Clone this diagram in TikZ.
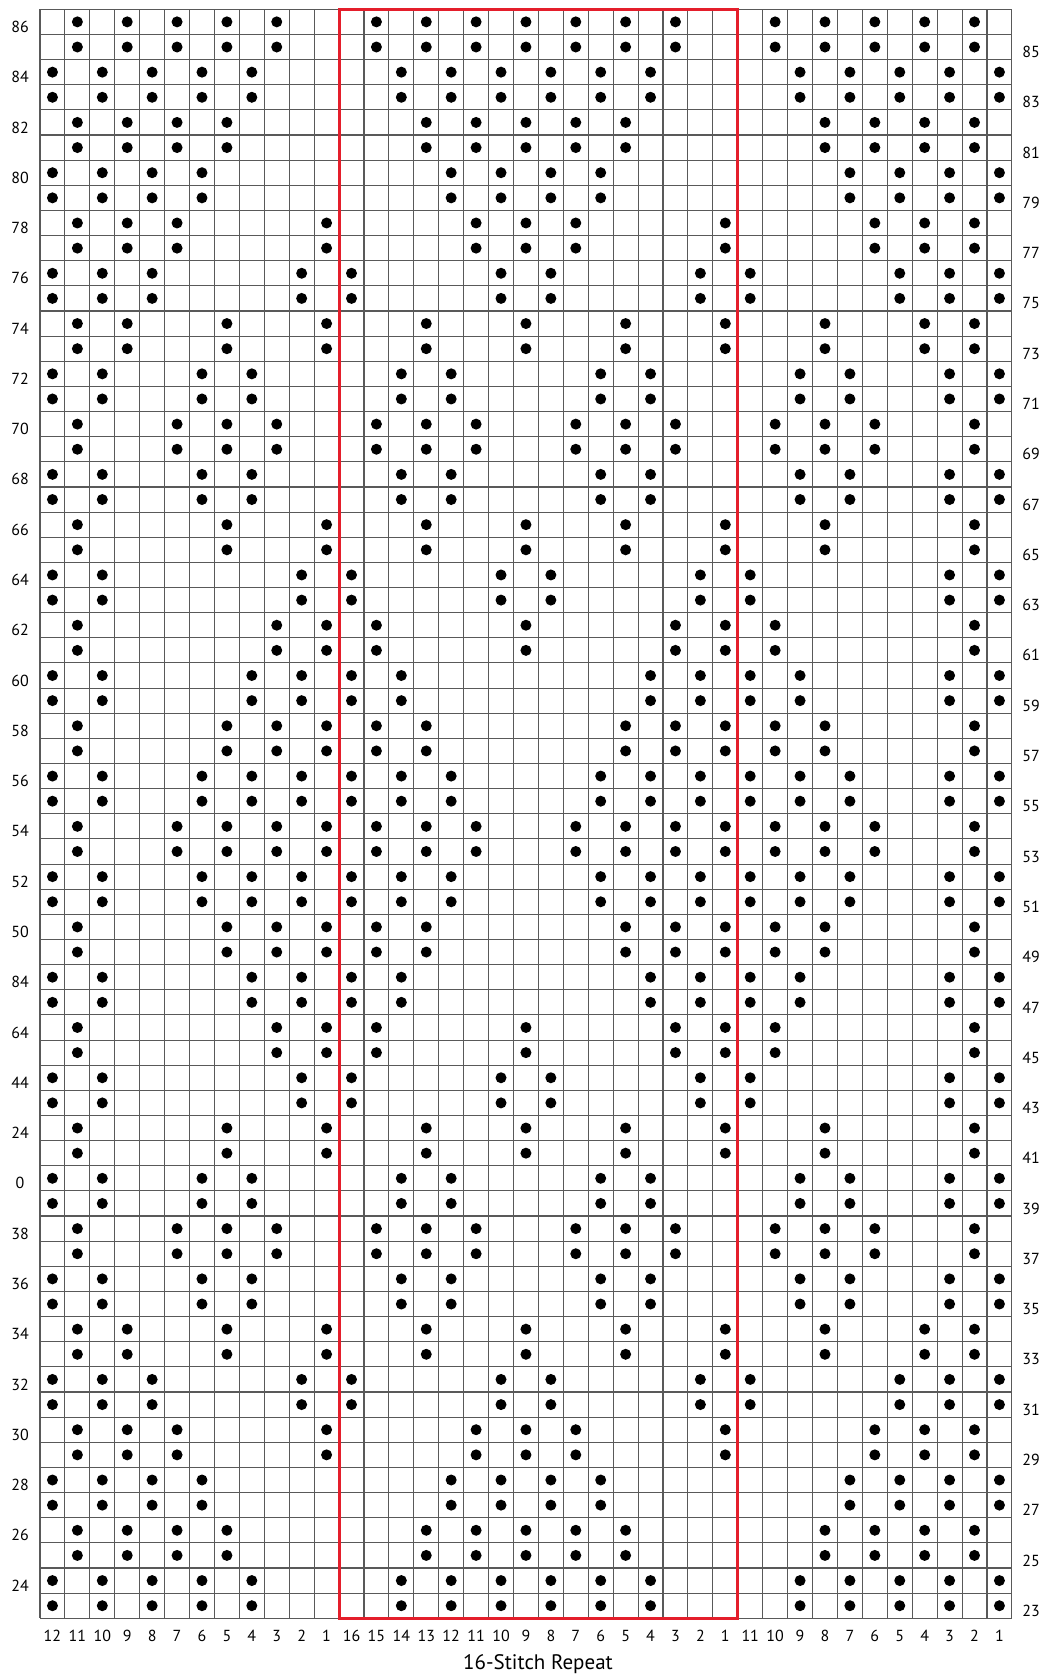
\documentclass[tikz,border=0pt]{standalone}
\usepackage{fontspec}
\setmainfont{PT Sans}
\definecolor{gridc}{HTML}{595959}
\definecolor{redc}{HTML}{E41E2B}
\begin{document}
\begin{tikzpicture}[x=1pt,y=-1pt,
  gridline/.style={draw=gridc,line width=1.1pt},
  redbox/.style={draw=redc,line width=3pt},
  knot/.style={fill=black},
  rowlab/.style={font=\fontsize{16}{16}\selectfont,anchor=center,inner sep=0pt},
  collab/.style={font=\fontsize{16}{16}\selectfont,anchor=center,inner sep=0pt},
  titlelab/.style={font=\fontsize{21}{21}\selectfont,anchor=center,inner sep=0pt}]
\useasboundingbox (0,0) rectangle (1053,1675);
\fill[white] (0,0) rectangle (1053,1675);
% grid
\foreach \i in {0,...,39} \draw[gridline] ({40+\i*24.92},9.3) -- ({40+\i*24.92},1618.3);
\foreach \j in {0,...,64} \draw[gridline] (40,{9.3+\j*25.14}) -- (1011.7,{9.3+\j*25.14});
% dots: pair index / columns
\foreach \k/\cl in {
 0/{1,3,5,7,9,13,15,17,19,21,23,25,29,31,33,35,37},
 1/{0,2,4,6,8,14,16,18,20,22,24,30,32,34,36,38},
 2/{1,3,5,7,15,17,19,21,23,31,33,35,37},
 3/{0,2,4,6,16,18,20,22,32,34,36,38},
 4/{1,3,5,11,17,19,21,27,33,35,37},
 5/{0,2,4,10,12,18,20,26,28,34,36,38},
 6/{1,3,7,11,15,19,23,27,31,35,37},
 7/{0,2,6,8,14,16,22,24,30,32,36,38},
 8/{1,5,7,9,13,15,17,21,23,25,29,31,33,37},
 9/{0,2,6,8,14,16,22,24,30,32,36,38},
 10/{1,7,11,15,19,23,27,31,37},
 11/{0,2,10,12,18,20,26,28,36,38},
 12/{1,9,11,13,19,25,27,29,37},
 13/{0,2,8,10,12,14,24,26,28,30,36,38},
 14/{1,7,9,11,13,15,23,25,27,29,31,37},
 15/{0,2,6,8,10,12,14,16,22,24,26,28,30,32,36,38},
 16/{1,5,7,9,11,13,15,17,21,23,25,27,29,31,33,37},
 17/{0,2,6,8,10,12,14,16,22,24,26,28,30,32,36,38},
 18/{1,7,9,11,13,15,23,25,27,29,31,37},
 19/{0,2,8,10,12,14,24,26,28,30,36,38},
 20/{1,9,11,13,19,25,27,29,37},
 21/{0,2,10,12,18,20,26,28,36,38},
 22/{1,7,11,15,19,23,27,31,37},
 23/{0,2,6,8,14,16,22,24,30,32,36,38},
 24/{1,5,7,9,13,15,17,21,23,25,29,31,33,37},
 25/{0,2,6,8,14,16,22,24,30,32,36,38},
 26/{1,3,7,11,15,19,23,27,31,35,37},
 27/{0,2,4,10,12,18,20,26,28,34,36,38},
 28/{1,3,5,11,17,19,21,27,33,35,37},
 29/{0,2,4,6,16,18,20,22,32,34,36,38},
 30/{1,3,5,7,15,17,19,21,23,31,33,35,37},
 31/{0,2,4,6,8,14,16,18,20,22,24,30,32,34,36,38}}{
  \foreach \c in \cl {
    \fill[knot] ({40+(\c+0.5)*24.92},{9.3+(2*\k+0.5)*25.14}) circle (5.5);
    \fill[knot] ({40+(\c+0.5)*24.92},{9.3+(2*\k+1.5)*25.14}) circle (5.5);
  }
}
% red repeat box
\draw[redbox] (339.0,9.3) rectangle (737.8,1618.3);
% left row labels
\foreach \lab [count=\k from 0] in {86,84,82,80,78,76,74,72,70,68,66,64,62,60,58,56,54,52,50,84,64,44,24,0,38,36,34,32,30,28,26,24}
  \node[rowlab] (left\k) at (20,{9.3+(2*\k+0.5)*25.14+5}) {\lab};
% right row labels
\foreach \lab [count=\k from 0] in {85,83,81,79,77,75,73,71,69,67,65,63,61,59,57,55,53,51,49,47,45,43,41,39,37,35,33,31,29,27,25,23}
  \node[rowlab] (right\k) at (1031,{9.3+(2*\k+1.5)*25.14+5}) {\lab};
% column labels
\foreach \c in {0,...,38} {
  \pgfmathtruncatemacro\t{\c<12 ? 12-\c : (\c<28 ? 28-\c : 39-\c)}
  \node[collab] (col\c) at ({40+(\c+0.5)*24.92},1636) {\t};
}
\node[titlelab] (title) at (538,1664) {16-Stitch Repeat};
\end{tikzpicture}
\end{document}
